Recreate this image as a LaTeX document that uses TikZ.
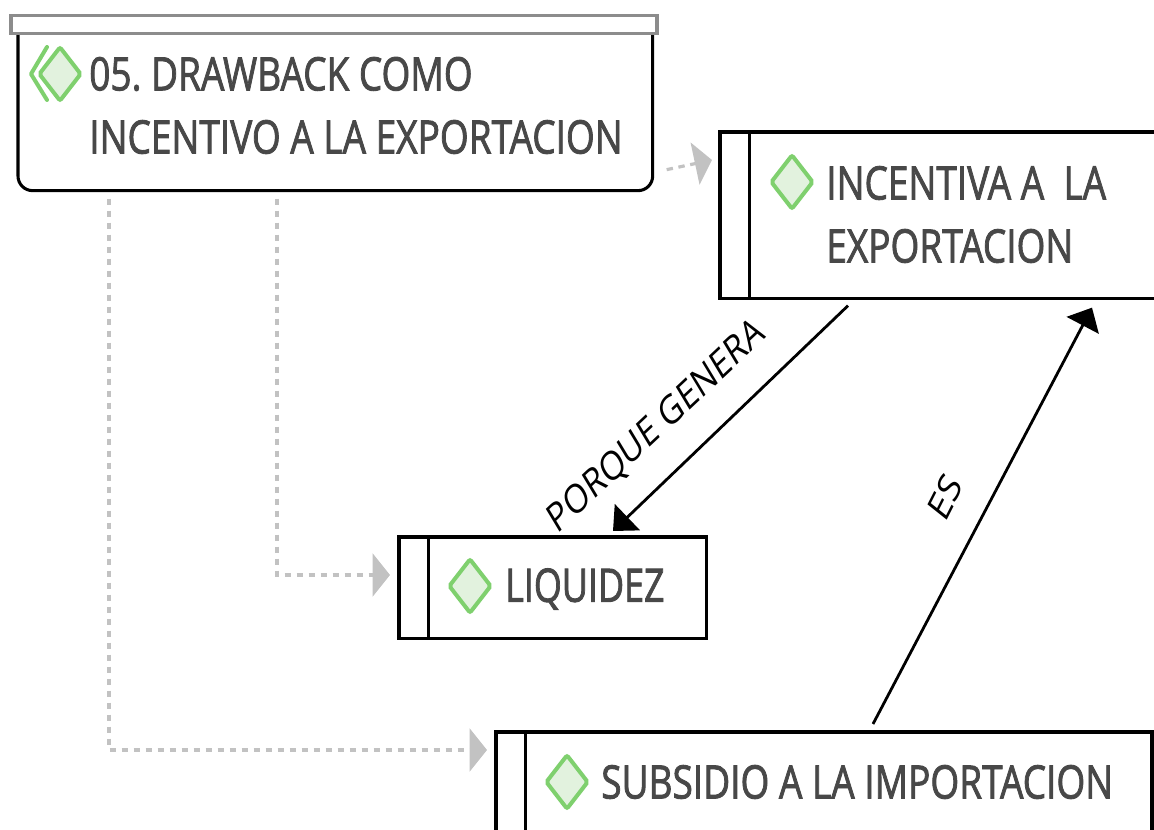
\documentclass[tikz,border=0pt]{standalone}
\usepackage{fontspec}
\setmainfont{Open Sans}
\newfontfamily\heavy[FakeBold=2]{Open Sans}
\usetikzlibrary{arrows.meta,calc,shapes.geometric}
\definecolor{txt}{HTML}{484848}
\definecolor{dia}{HTML}{7FD06E}
\definecolor{diaf}{HTML}{E2F2DE}
\definecolor{dep}{HTML}{C2C2C2}
\newcommand{\tallt}[2][0.805]{\scalebox{#1}[1]{#2}}
\tikzset{
  x=0.75pt,y=-0.75pt,
  taskbox/.style={draw=black,line width=2.3pt,fill=white,inner sep=0pt,outer sep=0pt,anchor=north west,rectangle},
  mainbox/.style={taskbox,rounded corners=11pt},
  headbox/.style={draw=black!45,line width=2.8pt,fill=white,inner sep=0pt,outer sep=0pt,anchor=north west,minimum width=484.5pt,minimum height=13.5pt},
  gem/.style={diamond,draw=dia,fill=diaf,line width=3pt,inner sep=0pt,outer sep=0pt,aspect=0.78,minimum width=31pt,minimum height=40pt,rounded corners=1.5pt},
  lab/.style={text=txt,font=\heavy\fontsize{34.5}{46}\selectfont,inner sep=0pt,anchor=west},
  deplink/.style={draw=dep,line width=2.4pt,dash pattern=on 4.8pt off 4.2pt,-{Triangle[length=13pt,width=32pt,fill=dep]}},
  flow/.style={draw=black,line width=2.1pt,-{Triangle[length=15pt,width=27pt,fill=black]}},
  edgelab/.style={text=black,font=\fontsize{30}{36}\selectfont,inner sep=0pt,transform shape},
}
\begin{document}
\begin{tikzpicture}
\useasboundingbox (0,0) rectangle (1154,830);
\clip (0,0) rectangle (1154,830);
\fill[white] (0,0) rectangle (1154,830);

% main
\node[mainbox,minimum width=476pt,minimum height=128pt] (main) at (18,20) {};
\node[headbox] (head) at (11,15.5) {};

% boxes
\node[taskbox,minimum width=345pt,minimum height=125pt] (inc) at (720,132) {};
\node[taskbox,minimum width=230.5pt,minimum height=76pt] (liq) at (399,537) {};
\node[taskbox,minimum width=492pt,minimum height=120pt] (sub) at (496,732) {};

% inner bars
\draw[black,line width=2.2pt] ($(inc.north west)+(29.5,0)$) -- ($(inc.south west)+(29.5,0)$);
\draw[black,line width=2.2pt] ($(liq.north west)+(29.5,0)$) -- ($(liq.south west)+(29.5,0)$);
\draw[black,line width=2.2pt] ($(sub.north west)+(29.5,0)$) -- ($(sub.south west)+(29.5,0)$);

% gems
\draw[dia,line width=3pt,line cap=round,line join=round] (47,47) -- (31,74) -- (47,100);
\node[gem] (g1) at (60,74) {};
\node[gem] (g2) at (792,182) {};
\node[gem] (g3) at (470,586) {};
\node[gem] (g4) at (567,782) {};

% labels
\node[lab] (t1a) at (89,74) {\tallt{05.\ DRAWBACK COMO}};
\node[lab] (t1b) at (89,137) {\tallt{INCENTIVO A LA EXPORTACION}};
\node[lab] (t2a) at (826,183) {\tallt{INCENTIVA A~~LA}};
\node[lab] (t2b) at (826,246) {\tallt{EXPORTACION}};
\node[lab] (t3) at (505,589) {\tallt[0.78]{LIQUIDEZ}};
\node[lab] (t4) at (601,782) {\tallt{SUBSIDIO A LA IMPORTACION}};

% dependency links
\coordinate (d1) at ($(main.south west)+(91,8)$);
\coordinate (d2) at ($(main.south west)+(259,8)$);
\coordinate (d3) at ($(main.south east)+(14,-21)$);
\draw[deplink] (d1) |- ($(sub.north west)+(-9,18)$);
\draw[deplink] (d2) |- ($(liq.north west)+(-9,38)$);
\draw[deplink] (d3) -- ($(inc.north west)+(-8,28)$);

% flows
\draw[flow] ($(inc.south west)+(128,7)$) -- ($(liq.north west)+(214,-6)$);
\draw[flow] ($(sub.north west)+(377,-8)$) -- ($(inc.south west)+(372,9)$);

% edge labels
\node[edgelab,xscale=0.8,rotate=37] (e1) at (657,427) {PORQUE GENERA};
\node[edgelab,xscale=0.8,rotate=57.5] (e2) at (945,497) {ES};
\end{tikzpicture}
\end{document}
